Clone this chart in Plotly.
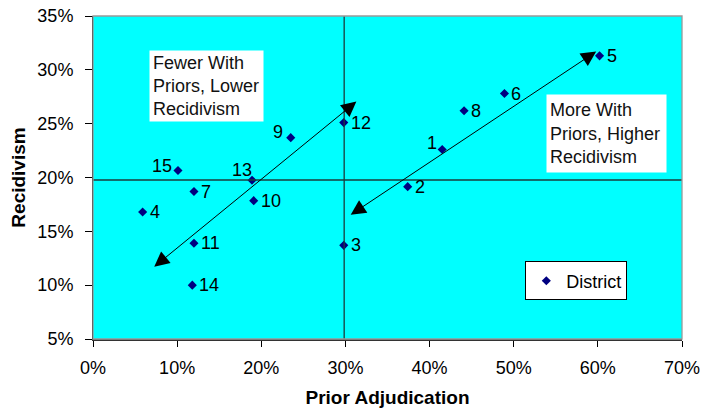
import plotly.graph_objects as go

districts = ["1", "2", "3", "4", "5", "6", "7", "8", "9", "10", "11", "12", "13", "14", "15"]
prior_adj = [41.5, 37.4, 29.8, 5.9, 60.2, 48.9, 12.0, 44.1, 23.5, 19.1, 12.0, 29.8, 18.9, 11.8, 10.1]
recidivism = [22.6, 19.15, 13.7, 16.8, 31.3, 27.8, 18.7, 26.2, 23.7, 17.85, 13.9, 25.1, 19.75, 10.0, 20.65]

x_ticks = [0, 10, 20, 30, 40, 50, 60, 70]
y_ticks = [5, 10, 15, 20, 25, 30, 35]
mean_x = 29.85
mean_y = 19.77

# double-headed arrows: (start x, start y, end x, end y)
arrow_lower = (7.1, 11.6, 31.3, 27.05)
arrow_higher = (30.45, 16.45, 59.8, 31.7)

# label placement styles (anchor, xshift px, yshift px) for labels not placed to the right
left_label_style = {"1": ("right", -3, 7), "9": ("right", -6, 6),
                    "13": ("right", 2, 10), "15": ("right", -4, 5)}
right_label_style = ("left", 5, 0)

font = "Liberation Sans, Arial, sans-serif"

fig = go.Figure()
fig.add_trace(go.Scatter(
    x=prior_adj, y=recidivism, mode="markers",
    marker=dict(symbol="diamond", size=7, color="#000080"),
    name="District", showlegend=True, cliponaxis=False,
))

for name, xv, yv in zip(districts, prior_adj, recidivism):
    anchor, xs, ys = left_label_style.get(name, right_label_style)
    fig.add_annotation(x=xv, y=yv, xref="x", yref="y", text=name, showarrow=False,
                       xanchor=anchor, yanchor="middle", xshift=xs, yshift=ys,
                       font=dict(family=font, size=18, color="black"))

fig.add_shape(type="line", xref="x", yref="paper", x0=mean_x, x1=mean_x, y0=0, y1=1,
              line=dict(color="#1a3d3d", width=1.3))
fig.add_shape(type="line", xref="paper", yref="y", x0=0, x1=1, y0=mean_y, y1=mean_y,
              line=dict(color="#1a3d3d", width=1.3))
fig.add_shape(type="rect", xref="paper", yref="paper", x0=0, x1=1, y0=0, y1=1,
              line=dict(color="#999999", width=1.3))

for (sx, sy, ex, ey) in [arrow_lower, arrow_higher]:
    fig.add_annotation(x=ex, y=ey, ax=sx, ay=sy, xref="x", yref="y", axref="x", ayref="y",
                       showarrow=True, arrowside="end+start",
                       arrowhead=2, arrowsize=3, startarrowhead=2, startarrowsize=3,
                       arrowwidth=1, arrowcolor="black", text="",
                       standoff=0, startstandoff=0)

box_font = dict(family=font, size=18, color="#111111")
fig.add_annotation(xref="x", yref="y", x=6.62, y=31.84, xanchor="left", yanchor="top",
                   text="Fewer With<br>Priors, Lower<br>Recidivism", align="left",
                   showarrow=False, bgcolor="white", font=box_font,
                   borderpad=3, width=107, height=64)
fig.add_annotation(xref="x", yref="y", x=53.8, y=27.76, xanchor="left", yanchor="top",
                   text="More With<br>Priors, Higher<br>Recidivism", align="left",
                   showarrow=False, bgcolor="white", font=box_font,
                   borderpad=3, width=113, height=71)

fig.update_layout(
    width=708, height=408,
    margin=dict(l=93, r=26, t=16, b=69),
    paper_bgcolor="white", plot_bgcolor="#00FFFF",
    font=dict(family=font, size=18, color="black"),
    showlegend=True,
    legend=dict(x=0.734, y=0.24, xanchor="left", yanchor="top",
                bgcolor="white", bordercolor="black", borderwidth=1,
                font=dict(family=font, size=18, color="black"),
                itemwidth=30, tracegroupgap=0),
    xaxis=dict(range=[0, 70], tickvals=x_ticks, ticktext=[f"{v}%" for v in x_ticks],
               showgrid=False, zeroline=False, showline=True, linecolor="#333333", linewidth=2,
               ticks="outside", ticklen=6, tickcolor="black", tickwidth=1,
               ticklabelstandoff=5, automargin=False,
               title=dict(text="<b>Prior Adjudication</b>", font=dict(family=font, size=19), standoff=14),
               tickfont=dict(family=font, size=18)),
    yaxis=dict(range=[5, 35], tickvals=y_ticks, ticktext=[f"{v}%" for v in y_ticks],
               showgrid=False, zeroline=False, showline=True, linecolor="black", linewidth=1,
               ticks="outside", ticklen=7, tickcolor="black", tickwidth=1,
               ticklabelstandoff=8, automargin=False,
               title=dict(text="<b>Recidivism</b>", font=dict(family=font, size=19), standoff=6),
               tickfont=dict(family=font, size=18)),
)

fig.write_html("out.html")
